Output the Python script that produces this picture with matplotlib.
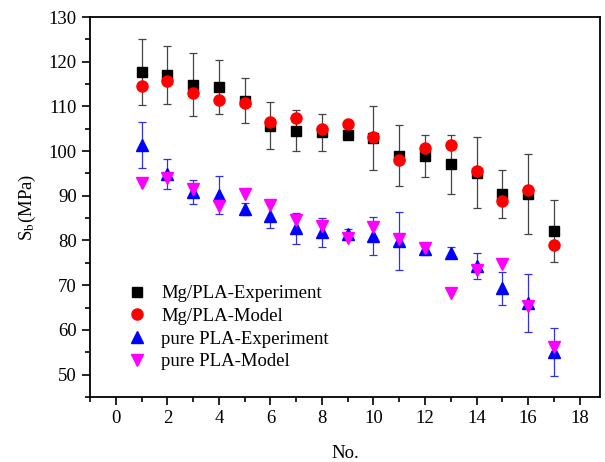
# Sb vs No. -- Mg/PLA and pure PLA, experiment vs model

import numpy as np
import matplotlib
matplotlib.use('Agg')
import matplotlib.pyplot as plt
from matplotlib.ticker import MultipleLocator

plt.rcParams['font.family'] = ['Liberation Serif', 'DejaVu Serif']
plt.rcParams['mathtext.fontset'] = 'stix'

no = np.arange(1, 18)

mg_exp = [117.7, 117.0, 114.9, 114.3, 111.3, 105.7, 104.6, 104.2, 103.5,
          102.9, 99.0, 98.8, 97.1, 95.2, 90.4, 90.4, 82.1]
mg_exp_err = [7.3, 6.5, 7.0, 6.0, 5.0, 5.3, 4.5, 4.2, 0.8,
              7.1, 6.8, 4.7, 6.6, 8.0, 5.3, 9.0, 7.0]
mg_model = [114.5, 115.8, 112.9, 111.5, 110.7, 106.5, 107.5, 105.0, 106.0,
            103.2, 98.0, 100.6, 101.4, 95.6, 88.9, 91.3, 79.0]

pla_exp = [101.4, 94.9, 90.9, 90.2, 87.0, 85.5, 82.7, 81.8, 81.4,
           81.0, 79.9, 78.0, 77.3, 74.3, 69.3, 66.0, 55.0]
pla_exp_err = [5.1, 3.3, 2.7, 4.3, 1.4, 2.7, 3.5, 3.3, 1.2,
               4.3, 6.4, 1.2, 1.2, 2.9, 3.7, 6.4, 5.4]
pla_model = [92.8, 94.0, 91.5, 87.8, 90.5, 88.0, 84.5, 83.3, 80.6,
             83.0, 80.3, 78.4, 68.3, 73.5, 74.7, 65.3, 56.1]

fig = plt.figure(figsize=(6.05, 4.62), dpi=100)
ax = fig.add_axes([0.149, 0.141, 0.843, 0.822])

# error bars first, markers on top
ax.errorbar(no, mg_exp, yerr=mg_exp_err, fmt='none', ecolor='#444444',
            elinewidth=0.9, capsize=3, capthick=0.9)
ax.errorbar(no, pla_exp, yerr=pla_exp_err, fmt='none', ecolor='#3030e0',
            elinewidth=0.9, capsize=3, capthick=0.9)

ax.plot(no, mg_exp, 's', color='black', ms=7, label='Mg/PLA-Experiment')
ax.plot(no, mg_model, 'o', color='red', ms=8, label='Mg/PLA-Model')
ax.plot(no, pla_exp, '^', color='blue', ms=8.5, label='pure PLA-Experiment')
ax.plot(no, pla_model, 'v', color='magenta', ms=8.5, label='pure PLA-Model')

ax.set_xlim(-1, 18.8)
ax.set_ylim(45, 130)
ax.xaxis.set_major_locator(MultipleLocator(2))
ax.xaxis.set_minor_locator(MultipleLocator(1))
ax.yaxis.set_major_locator(MultipleLocator(10))
ax.yaxis.set_minor_locator(MultipleLocator(5))
ax.tick_params(which='both', direction='out', labelsize=13.5, width=1.2)
ax.tick_params(which='major', length=6)
ax.tick_params(which='minor', length=3.5)
for s in ax.spines.values():
    s.set_linewidth(1.3)

ax.set_xlabel('No.', fontsize=13.5, labelpad=13)
ax.set_ylabel(r'S$_\mathrm{b}$(MPa)', fontsize=13.5, labelpad=8)

ax.legend(loc='lower left', bbox_to_anchor=(0.055, 0.05), frameon=False,
          fontsize=13.5, handletextpad=0.7, labelspacing=0.3,
          handlelength=1.2, borderaxespad=0)

fig.savefig('out.png', dpi=100)
